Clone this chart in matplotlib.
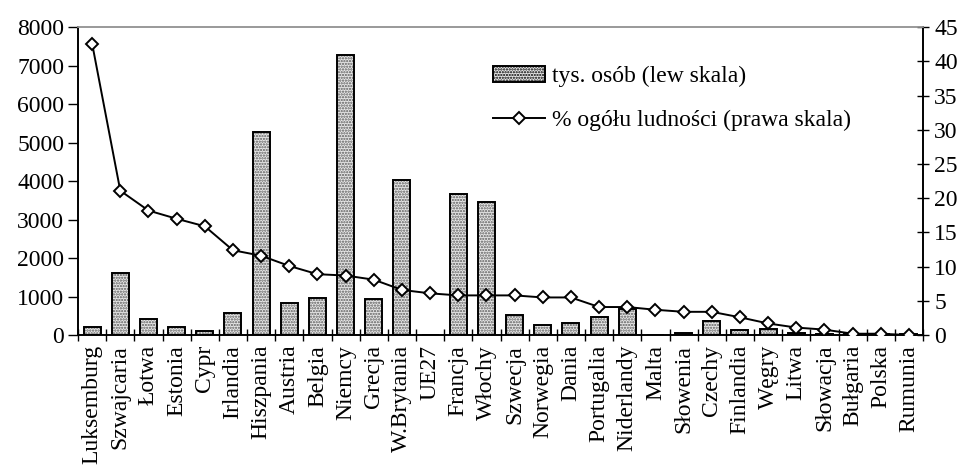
import numpy as np
import matplotlib

matplotlib.use("Agg")
import matplotlib.pyplot as plt
from matplotlib.patches import Patch

plt.rcParams["font.family"] = ["Liberation Serif", "DejaVu Serif"]
plt.rcParams["hatch.linewidth"] = 1.1

countries = [
    "Luksemburg", "Szwajcaria", "Łotwa", "Estonia", "Cypr", "Irlandia",
    "Hiszpania", "Austria", "Belgia", "Niemcy", "Grecja", "W.Brytania",
    "UE27", "Francja", "Włochy", "Szwecja", "Norwegia", "Dania",
    "Portugalia", "Niderlandy", "Malta", "Słowenia", "Czechy", "Finlandia",
    "Węgry", "Litwa", "Słowacja", "Bułgaria", "Polska", "Rumunia",
]
# foreigners, thousands of persons (left axis)
thousands = [
    200, 1600, 415, 200, 95, 565,
    5265, 825, 975, 7275, 925, 4020,
    0, 3660, 3455, 520, 260, 310,
    475, 690, 10, 60, 365, 145,
    155, 45, 40, 25, 20, 25,
]
# share of total population, % (right axis)
percent = [
    42.6, 21.1, 18.2, 17.0, 15.9, 12.4,
    11.6, 10.1, 8.9, 8.7, 8.1, 6.6,
    6.1, 5.8, 5.8, 5.8, 5.5, 5.5,
    4.1, 4.1, 3.7, 3.4, 3.4, 2.6,
    1.7, 1.1, 0.8, 0.2, 0.2, 0.0,
]

fs = 17
x = np.arange(len(countries))

fig = plt.figure(figsize=(9.67, 4.68), dpi=100)
ax = fig.add_axes([0.0807, 0.284, 0.8738, 0.658])
ax2 = ax.twinx()

# dotted grey fill, then a black outline on top
ax.bar(x, thousands, width=0.6, color="#e8e8e8", edgecolor="#5a5a5a",
       hatch="......", linewidth=0, zorder=2)
bars = ax.bar(x, thousands, width=0.6, facecolor="none", edgecolor="black",
              linewidth=1.4, zorder=3)

line, = ax2.plot(x, percent, color="black", lw=1.4, marker="D", ms=6.5,
                 mfc="white", mec="black", mew=1.4, zorder=4)

ax.set_xlim(-0.5, len(countries) - 0.5)
ax.set_ylim(0, 8000)
ax2.set_ylim(0, 45)
ax.set_yticks(np.arange(0, 8001, 1000))
ax2.set_yticks(np.arange(0, 46, 5))

ax.set_xticks(x)
ax.set_xticklabels(countries, rotation=90, fontsize=17, va="top")
ax.set_xticks(np.arange(-0.5, len(countries)), minor=True)
ax.tick_params(axis="x", which="major", length=0, pad=7)
ax.tick_params(axis="x", which="minor", length=8, width=1, direction="inout")
ax.tick_params(axis="y", length=7, width=1, direction="out", labelsize=fs, pad=3)
ax2.tick_params(axis="y", length=8, width=1, direction="inout", labelsize=fs, pad=4)

for a in (ax, ax2):
    a.spines["top"].set_color("#999999")
    a.spines["top"].set_linewidth(1.2)
    for s in ("left", "right", "bottom"):
        a.spines[s].set_linewidth(1.2)

# legend entry for the bars uses a hatched patch
bar_handle = Patch(facecolor="#e8e8e8", edgecolor="black", hatch="......", linewidth=1.4)
leg = ax2.legend([bar_handle, line],
                 ["tys. osób (lew skala)", "% ogółu ludności (prawa skala)"],
                 loc="upper left", bbox_to_anchor=(0.48, 0.905), frameon=False,
                 fontsize=fs, handlelength=2.2, handletextpad=0.3, labelspacing=0.95,
                 borderaxespad=0)

fig.savefig("out.png", dpi=100)
